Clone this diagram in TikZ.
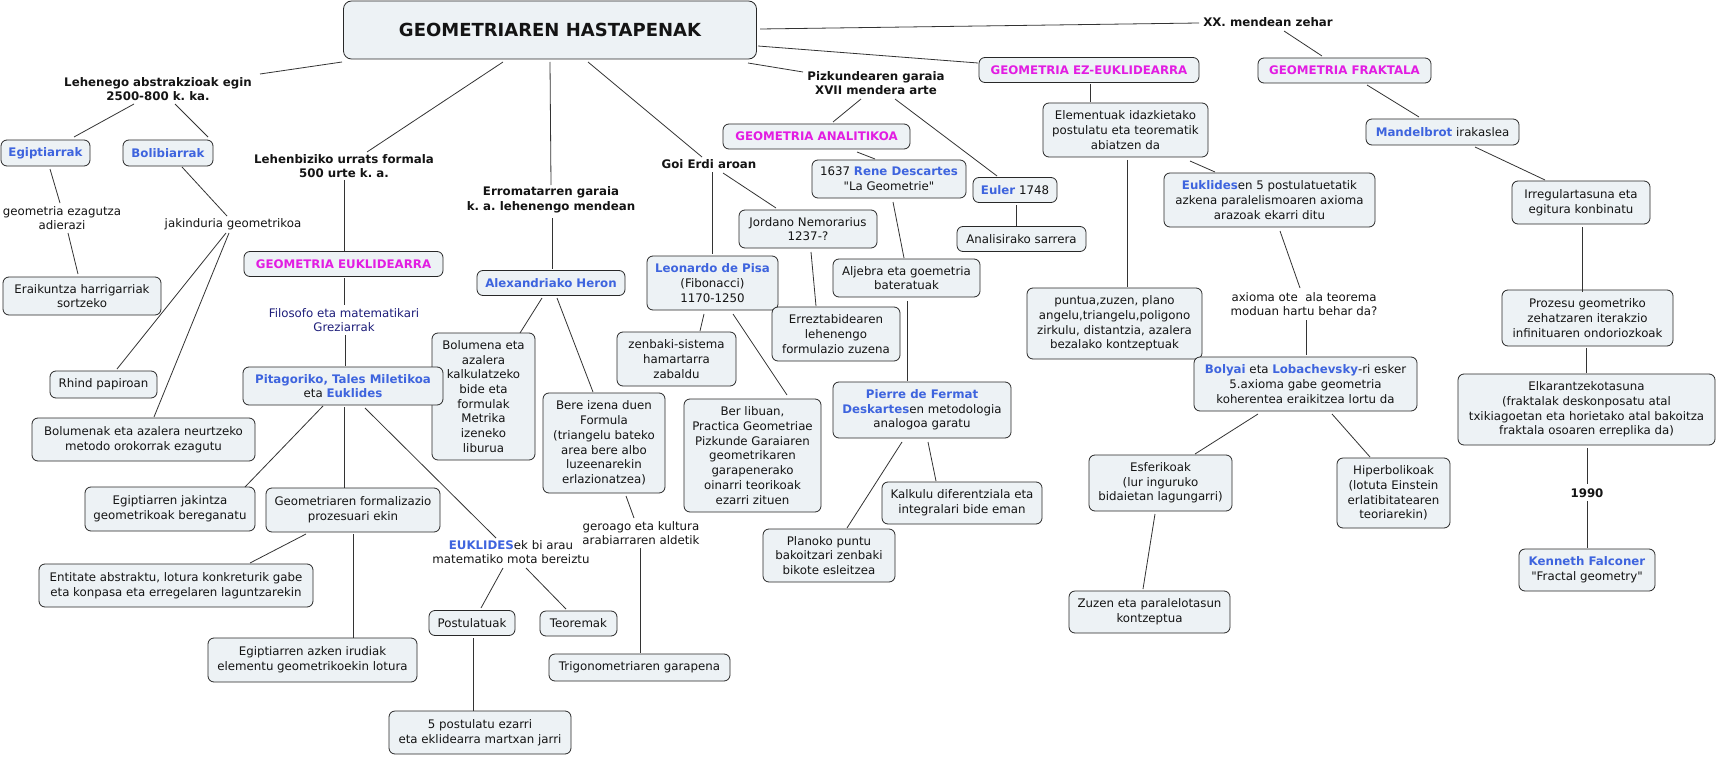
\documentclass[tikz,border=0pt]{standalone}
\usepackage{fontspec}
\setmainfont{DejaVu Sans}[Ligatures=TeXOff]
\definecolor{boxfill}{RGB}{237,242,245}
\definecolor{boxline}{RGB}{40,40,40}
\definecolor{nameblue}{RGB}{62,100,222}
\definecolor{magen}{RGB}{226,28,226}
\definecolor{navy}{RGB}{30,30,122}
\newcommand\bl[1]{{\bfseries\color{nameblue}#1}}
\newcommand\mg[1]{{\bfseries\color{magen}#1}}
\newcommand\qq{\symbol{34}}
\newcommand\conlink[4]{\draw[conn] ([shift={(#2)}]#1.center) -- ([shift={(#4)}]#3.center);}
\frenchspacing
\begin{document}
\frenchspacing
\begin{tikzpicture}[x=1pt,y=-1pt,
  every node/.style={font=\fontsize{11.8}{14.7}\selectfont, text=black!92},
  box/.style={draw=boxline, fill=boxfill, rounded corners=6pt, line width=0.8pt, align=center, inner xsep=3pt, inner ysep=2pt},
  sz/.style 2 args={minimum width=#1pt, minimum height=#2pt},
  lbl/.style={align=center, inner sep=1pt},
  blbl/.style={align=center, inner sep=1pt, font=\fontsize{11.8}{14.7}\selectfont\bfseries},
  conn/.style={draw=black!80, line width=0.8pt}]
\fill[white] (0,0) rectangle (1716,757);
\useasboundingbox (0,0) rectangle (1716,757);

% title
\node[box, sz={413}{58}, rounded corners=8pt, font=\fontsize{18}{22}\selectfont\bfseries] (title) at (550,30) {GEOMETRIAREN HASTAPENAK};

% boxes
\node[box, sz={89}{26}] (egip) at (45.5,153) {\bl{Egiptiarrak}};
\node[box, sz={90}{26}] (boli) at (168,153) {\bl{Bolibiarrak}};
\node[box, sz={158}{38}] (eraik) at (82,296) {Eraikuntza harrigarriak\\sortzeko};
\node[box, sz={199}{25}] (geomEuk) at (343.5,264) {\mg{GEOMETRIA EUKLIDEARRA}};
\node[box, sz={103}{127}] (bolumena) at (483.5,396.5) {Bolumena eta\\azalera\\kalkulatzeko\\bide eta\\formulak\\Metrika\\izeneko\\liburua};
\node[box, sz={200}{38}] (pitag) at (343,386) {\bl{Pitagoriko, Tales Miletikoa}\\eta \bl{Euklides}};
\node[box, sz={107}{27}] (rhind) at (103.5,384.5) {Rhind papiroan};
\node[box, sz={223}{43}] (bolumenak) at (143.5,439.5) {Bolumenak eta azalera neurtzeko\\metodo orokorrak ezagutu};
\node[box, sz={170}{44}] (egipjak) at (170,509) {Egiptiarren jakintza\\geometrikoak bereganatu};
\node[box, sz={174}{44}] (geomform) at (353,510) {Geometriaren formalizazio\\prozesuari ekin};
\node[box, sz={274}{43}] (entitate) at (176,585.5) {Entitate abstraktu, lotura konkreturik gabe\\eta konpasa eta erregelaren laguntzarekin};
\node[box, sz={209}{44}] (egipazken) at (312.5,660) {Egiptiarren azken irudiak\\elementu geometrikoekin lotura};
\node[box, sz={86}{25}] (postul) at (472,623) {Postulatuak};
\node[box, sz={77}{25}] (teorem) at (578.5,623.5) {Teoremak};
\node[box, sz={182}{43}] (bost) at (480,732.5) {5 postulatu ezarri\\eta eklidearra martxan jarri};
\node[box, sz={181}{27}] (trigon) at (639.5,667.5) {Trigonometriaren garapena};
\node[box, sz={148}{25}] (heron) at (551,283) {\bl{Alexandriako Heron}};
\node[box, sz={122}{100}] (bere) at (604,443) {Bere izena duen\\Formula\\(triangelu bateko\\area bere albo\\luzeenarekin\\erlazionatzea)};
\node[box, sz={131}{54}] (leonardo) at (712.5,283) {\bl{Leonardo de Pisa}\\(Fibonacci)\\1170-1250};
\node[box, sz={138}{38}] (jordano) at (808,229) {Jordano Nemorarius\\1237-?};
\node[box, sz={119}{54}] (zenbaki) at (676.5,359) {zenbaki-sistema\\hamartarra\\zabaldu};
\node[box, sz={137}{113}] (berlib) at (752.5,455.5) {Ber libuan,\\Practica Geometriae\\Pizkunde Garaiaren\\geometrikaren\\garapenerako\\oinarri teorikoak\\ezarri zituen};
\node[box, sz={128}{54}] (errez) at (836,334) {Erreztabidearen\\lehenengo\\formulazio zuzena};
\node[box, sz={187}{25}] (analit) at (816.5,136.5) {\mg{GEOMETRIA ANALITIKOA}};
\node[box, sz={154}{38}] (descartes) at (889,179) {1637 \bl{Rene Descartes}\\\qq La Geometrie\qq};
\node[box, sz={147}{38}] (aljebra) at (906.5,278) {Aljebra eta goemetria\\bateratuak};
\node[box, sz={84}{25}] (euler) at (1015,190) {\bl{Euler} 1748};
\node[box, sz={129}{25}] (analisi) at (1021.5,239) {Analisirako sarrera};
\node[box, sz={178}{56}] (pierre) at (922,410) {\bl{Pierre de Fermat}\\\bl{Deskartes}en metodologia\\analogoa garatu};
\node[box, sz={160}{42}] (kalkulu) at (962,503) {Kalkulu diferentziala eta\\integralari bide eman};
\node[box, sz={132}{53}] (planoko) at (829,555.5) {Planoko puntu\\bakoitzari zenbaki\\bikote esleitzea};
\node[box, sz={220}{25}] (ezeuk) at (1089,70) {\mg{GEOMETRIA EZ-EUKLIDEARRA}};
\node[box, sz={165}{54}] (element) at (1125.5,130) {Elementuak idazkietako\\postulatu eta teorematik\\abiatzen da};
\node[box, sz={175}{71}] (puntua) at (1114.5,323.5) {puntua,zuzen, plano\\angelu,triangelu,poligono\\zirkulu, distantzia, azalera\\bezalako kontzeptuak};
\node[box, sz={211}{54}] (euklides) at (1269.5,200) {\bl{Euklides}en 5 postulatuetatik\\azkena paralelismoaren axioma\\arazoak ekarri ditu};
\node[box, sz={223}{54}] (bolyai) at (1305.5,384) {\bl{Bolyai} eta \bl{Lobachevsky}-ri esker\\5.axioma gabe geometria\\koherentea eraikitzea lortu da};
\node[box, sz={143}{56}] (esfer) at (1160.5,483) {Esferikoak\\(lur inguruko\\bidaietan lagungarri)};
\node[box, sz={113}{70}] (hiper) at (1393.5,493) {Hiperbolikoak\\(lotuta Einstein\\erlatibitatearen\\teoriarekin)};
\node[box, sz={161}{42}] (zuzen) at (1149.5,612) {Zuzen eta paralelotasun\\kontzeptua};
\node[box, sz={173}{25}] (frakt) at (1344.5,70.5) {\mg{GEOMETRIA FRAKTALA}};
\node[box, sz={153}{26}] (mandel) at (1442.5,132) {\bl{Mandelbrot} irakaslea};
\node[box, sz={138}{43}] (irreg) at (1581,202.5) {Irregulartasuna eta\\egitura konbinatu};
\node[box, sz={171}{56}] (prozesu) at (1587.5,318) {Prozesu geometriko\\zehatzaren iterakzio\\infinituaren ondoriozkoak};
\node[box, sz={257}{71}] (elkar) at (1586.5,409.5) {Elkarantzekotasuna\\(fraktalak deskonposatu atal\\txikiagoetan eta horietako atal bakoitza\\fraktala osoaren erreplika da)};
\node[box, sz={136}{42}] (kenneth) at (1587,570) {\bl{Kenneth Falconer}\\\qq Fractal geometry\qq};

% link labels
\node[blbl] (L1) at (158,89) {Lehenego abstrakzioak egin\\2500-800 k. ka.};
\node[lbl] (geomez) at (62,218) {geometria ezagutza\\adierazi};
\node[lbl] (jakin) at (233,224) {jakinduria geometrikoa};
\node[blbl] (L2) at (344,166) {Lehenbiziko urrats formala\\500 urte k. a.};
\node[lbl, text=navy] (filos) at (344,320) {Filosofo eta matematikari\\Greziarrak};
\node[lbl] (euklbi) at (511,552) {\bl{EUKLIDES}ek bi arau\\matematiko mota bereiztu};
\node[lbl] (geroago) at (641,533) {geroago eta kultura\\arabiarraren aldetik};
\node[blbl] (erroma) at (551,200) {Erromatarren garaia\\k. a. lehenengo mendean};
\node[blbl] (goierdi) at (709,164) {Goi Erdi aroan};
\node[blbl] (pizk) at (876,83) {Pizkundearen garaia\\XVII mendera arte};
\node[blbl] (xx) at (1268,22) {XX. mendean zehar};
\node[lbl] (axioma) at (1304,304) {axioma ote\ \ ala teorema\\moduan hartu behar da?};
\node[blbl] (y1990) at (1587,493) {1990};

% connectors
\conlink{title}{-208,32}{L1}{102,-15}
\conlink{L1}{-24,15}{egip}{28.5,-16}
\conlink{L1}{17,15}{boli}{40,-16}
\conlink{egip}{4.5,16}{geomez}{-2,-15}
\conlink{geomez}{6,15}{eraik}{-4,-22}
\conlink{boli}{14,14}{jakin}{-6,-8}
\conlink{jakin}{-7,9}{rhind}{13.5,-15.5}
\conlink{jakin}{-4,9}{bolumenak}{10.5,-22.5}
\conlink{title}{-47,32}{L2}{23,-14}
\conlink{L2}{0,14}{geomEuk}{0.5,-13}
\conlink{geomEuk}{0.5,14}{filos}{0,-15}
\conlink{filos}{1,15}{pitag}{2,-20}
\conlink{pitag}{-20,20}{egipjak}{75,-22}
\conlink{pitag}{1,21}{geomform}{-9,-22}
\conlink{pitag}{22,22}{euklbi}{-15,-14}
\conlink{geomform}{-47,24}{entitate}{74,-22.5}
\conlink{geomform}{0,24}{egipazken}{40.5,-22}
\conlink{euklbi}{-8,16}{postul}{9,-15}
\conlink{euklbi}{15,16}{teorem}{-12.5,-14.5}
\conlink{postul}{1,15}{bost}{-7,-21.5}
\conlink{title}{0,32}{erroma}{0,-15}
\conlink{erroma}{1,18}{heron}{1,-14}
\conlink{heron}{-9,15}{bolumena}{36.5,-63.5}
\conlink{heron}{6,15}{bere}{-11,-51}
\conlink{bere}{22,53}{geroago}{-7,-15}
\conlink{geroago}{-1,15}{trigon}{0.5,-14.5}
\conlink{title}{38,32}{goierdi}{-7,-7}
\conlink{goierdi}{3,8}{leonardo}{-0.5,-29}
\conlink{goierdi}{14,9}{jordano}{-32,-21}
\conlink{leonardo}{-8.5,31}{zenbaki}{23.5,-28}
\conlink{leonardo}{20.5,31}{berlib}{34.5,-60.5}
\conlink{jordano}{3,23}{errez}{-20,-28}
\conlink{title}{198,33}{pizk}{-73,-11}
\conlink{pizk}{-15,16}{analit}{16.5,-14.5}
\conlink{pizk}{19,16}{euler}{-18,-14}
\conlink{analit}{40.5,15.5}{descartes}{-14,-20}
\conlink{descartes}{4,23}{aljebra}{-2.5,-20}
\conlink{aljebra}{0.5,23}{pierre}{-15,-29}
\conlink{pierre}{6,32}{kalkulu}{-26,-22}
\conlink{pierre}{-20,32}{planoko}{18,-27.5}
\conlink{euler}{1,15}{analisi}{-5.5,-13}
\conlink{title}{208,16}{ezeuk}{-111,-7}
\conlink{ezeuk}{1,14}{element}{-35.5,-28}
\conlink{element}{1.5,30}{puntua}{12.5,-36.5}
\conlink{element}{64.5,31}{euklides}{-54.5,-28}
\conlink{euklides}{10.5,31}{axioma}{-4,-16}
\conlink{axioma}{2,16}{bolyai}{0.5,-29}
\conlink{bolyai}{-47.5,30}{esfer}{34.5,-29}
\conlink{bolyai}{26.5,30}{hiper}{-23.5,-36}
\conlink{esfer}{-5.5,31}{zuzen}{-6.5,-23}
\conlink{title}{210,-1}{xx}{-69,1}
\conlink{xx}{16,9}{frakt}{-22.5,-14.5}
\conlink{frakt}{22.5,14.5}{mandel}{-23.5,-15}
\conlink{mandel}{32.5,15}{irreg}{-36,-22.5}
\conlink{irreg}{1,24.5}{prozesu}{-5.5,-26}
\conlink{prozesu}{-1.5,30}{elkar}{-0.5,-36.5}
\conlink{elkar}{0.5,38.5}{y1990}{0,-9}
\conlink{y1990}{0,8}{kenneth}{0,-22}
\end{tikzpicture}
\end{document}
